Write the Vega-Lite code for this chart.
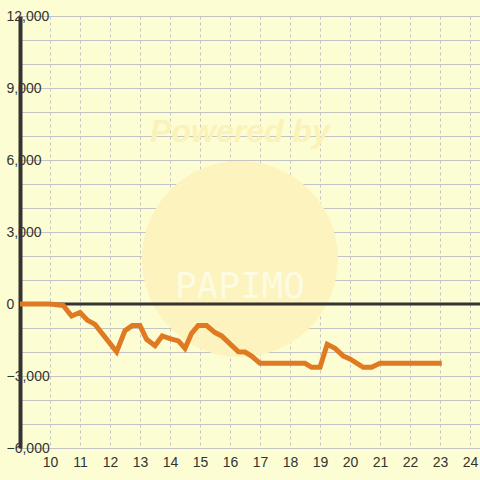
{
  "$schema": "https://vega.github.io/schema/vega-lite/v6.json",
  "width": 460,
  "height": 432,
  "autosize": {"type": "none"},
  "padding": {"left": 20, "top": 16, "right": 0, "bottom": 32},
  "background": "#FDFDD3",
  "config": {
    "view": {"stroke": null, "fill": "#FDFDD3"},
    "font": "Liberation Sans"
  },
  "datasets": {
    "series": [
      {"x": 9, "y": 0}, {"x": 10, "y": 0}, {"x": 10.44, "y": -60},
      {"x": 10.72, "y": -500}, {"x": 11, "y": -350}, {"x": 11.24, "y": -670},
      {"x": 11.5, "y": -850}, {"x": 12.22, "y": -1990}, {"x": 12.5, "y": -1110},
      {"x": 12.74, "y": -900}, {"x": 13, "y": -900}, {"x": 13.22, "y": -1470},
      {"x": 13.5, "y": -1740}, {"x": 13.74, "y": -1330}, {"x": 14, "y": -1440},
      {"x": 14.28, "y": -1540}, {"x": 14.5, "y": -1850}, {"x": 14.72, "y": -1220},
      {"x": 14.94, "y": -900}, {"x": 15.22, "y": -900}, {"x": 15.5, "y": -1190},
      {"x": 15.72, "y": -1330}, {"x": 16.28, "y": -1990}, {"x": 16.5, "y": -2000},
      {"x": 16.72, "y": -2170}, {"x": 17, "y": -2470}, {"x": 18.5, "y": -2470},
      {"x": 18.72, "y": -2640}, {"x": 19, "y": -2640}, {"x": 19.24, "y": -1680},
      {"x": 19.5, "y": -1850}, {"x": 19.78, "y": -2170}, {"x": 20, "y": -2290},
      {"x": 20.44, "y": -2640}, {"x": 20.72, "y": -2640}, {"x": 21, "y": -2470},
      {"x": 23.06, "y": -2470}
    ],
    "circle": [{"x": 16.33, "y": 1875}],
    "powered": [{"x": 16.33, "y": 7170, "label": "Powered by"}],
    "brand": [{"x": 16.33, "y": 700, "label": "PAPIMO"}],
    "zero": [{"x": 9, "y": 0}, {"x": 24.3333, "y": 0}]
  },
  "encoding": {
    "x": {"field": "x", "type": "quantitative", "scale": {"domain": [9, 24.3333], "nice": false, "zero": false},
      "axis": {"tickCount": 15, "labelExpr": "datum.value < 9.5 ? '' : datum.label", "grid": true, "gridDash": [3, 3], "gridColor": "#C4C4C4", "gridWidth": 1, "domain": false, "ticks": false, "labelFontSize": 14, "labelColor": "#333333", "labelPadding": 7, "title": null, "labelFont": "Liberation Sans", "labelFlush": false, "labelOverlap": false}},
    "y": {"field": "y", "type": "quantitative", "scale": {"domain": [-6000, 12000], "nice": false},
      "axis": {"tickCount": 18, "labelExpr": "datum.value % 3000 === 0 ? format(datum.value, ',') : ''", "grid": true, "gridColor": "#C4C4C4", "gridWidth": 1, "domain": true, "domainColor": "#333333", "domainWidth": 4, "ticks": false, "labelAlign": "left", "labelPadding": 14, "labelFontSize": 14, "labelColor": "#333333", "title": null, "labelFont": "Liberation Sans", "labelFlush": false, "labelOverlap": false}}
  },
  "layer": [
    {
      "data": {"name": "circle"},
      "mark": {"type": "point", "shape": "circle", "filled": true, "size": 38400, "color": "#FCF3BE", "opacity": 1}
    },
    {
      "data": {"name": "powered"},
      "mark": {"type": "text", "fontSize": 32, "fontWeight": "bold", "fontStyle": "italic", "color": "#FBF2BA", "font": "Liberation Sans"},
      "encoding": {"text": {"field": "label"}}
    },
    {
      "data": {"name": "brand"},
      "mark": {"type": "text", "fontSize": 36, "color": "#FDFBE2", "font": "DejaVu Sans Mono"},
      "encoding": {"text": {"field": "label"}}
    },
    {
      "data": {"name": "zero"},
      "mark": {"type": "line", "color": "#333333", "strokeWidth": 3}
    },
    {
      "data": {"name": "series"},
      "mark": {"type": "line", "color": "#E07A22", "strokeWidth": 5, "strokeJoin": "miter", "strokeCap": "butt"}
    }
  ]
}
